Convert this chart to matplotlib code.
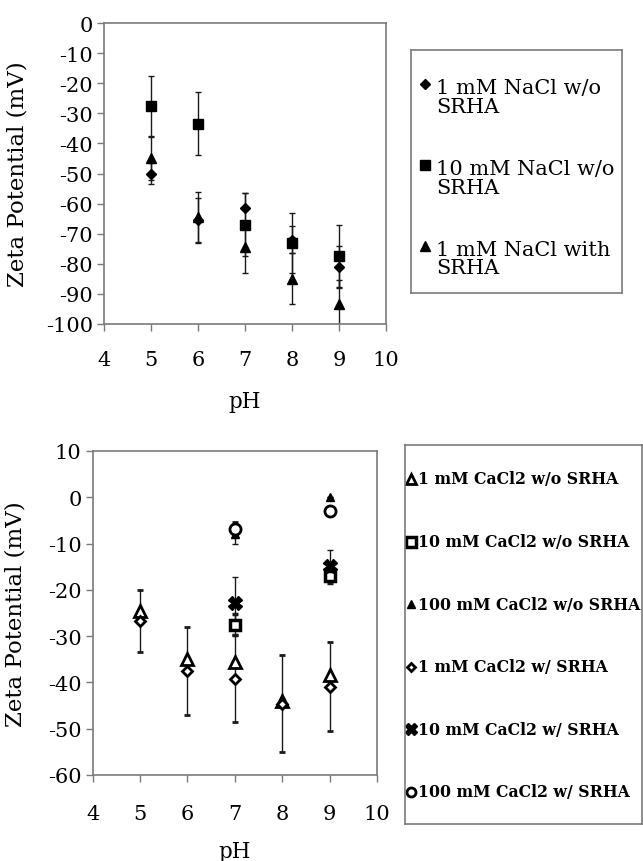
import numpy as np
import matplotlib
matplotlib.use("Agg")
import matplotlib.pyplot as plt

plt.rcParams['font.family'] = ['DejaVu Serif']

# ---- data: top panel (NaCl) ----
ph = [5, 6, 7, 8, 9]
nacl_1 = [-50, -65.5, -61.5, -72, -81]
nacl_1_err = [3.5, 7.3, 5, 4.5, 7]
nacl_10 = [-27.5, -33.5, -67, -73, -77.3]
nacl_10_err = [10, 10.5, 10.5, 10, 10.3]
nacl_1_srha = [-45, -64.5, -74.5, -85, -93.5]
nacl_1_srha_err = [7, 8.5, 8.5, 8.5, 8]

top_labels = [("1 mM NaCl w/o", "SRHA"), ("10 mM NaCl w/o", "SRHA"), ("1 mM NaCl with", "SRHA")]

# ---- data: bottom panel (CaCl2) ----
nan = np.nan
ca_1 = [-24.5, -35, -35.5, -44, -38.5]
ca_1_err = [0, 0, 0, 0, 0]
ca_10 = [nan, nan, -27.5, nan, -17]
ca_10_err = [0, 0, 2.3, 0, 1.5]
ca_100 = [nan, nan, -8, nan, 0]
ca_100_err = [0, 0, 2, 0, 0]
ca_1_srha = [-26.8, -37.6, -39.2, -44.6, -40.9]
ca_1_srha_err = [6.7, 9.5, 9.4, 10.5, 9.7]
ca_10_srha = [nan, nan, -22.9, nan, -14.8]
ca_10_srha_err = [0, 0, 5.6, 0, 3.4]
ca_100_srha = [nan, nan, -6.8, nan, -3]
ca_100_srha_err = [0, 0, 1.5, 0, 0]

bottom_labels = ["1 mM CaCl2 w/o SRHA", "10 mM CaCl2 w/o SRHA", "100 mM CaCl2 w/o SRHA",
                 "1 mM CaCl2 w/ SRHA", "10 mM CaCl2 w/ SRHA", "100 mM CaCl2 w/ SRHA"]

W, H = 643, 862
fig = plt.figure(figsize=(W / 100, H / 100), dpi=100)
GRAY = '#7a7a7a'


def px_axes(l, t, r, b):
    return fig.add_axes([l / W, 1 - b / H, (r - l) / W, (b - t) / H])


def style_axes(ax):
    for s in ax.spines.values():
        s.set_color(GRAY)
        s.set_linewidth(1.2)
    ax.tick_params(direction='out', length=5, width=1, color=GRAY, labelsize=15, pad=3)


def legend_box(l, t, r, b):
    lg = px_axes(l, t, r, b)
    lg.set_xlim(l, r)
    lg.set_ylim(b, t)  # pixel coordinates, y down
    lg.set_xticks([])
    lg.set_yticks([])
    for s in lg.spines.values():
        s.set_color(GRAY)
        s.set_linewidth(1.2)
    return lg


ebkw = dict(ls='none', ecolor='#1a1a1a', elinewidth=1, capsize=2.5, capthick=1)

# ---- top plot ----
ax1 = px_axes(104, 24, 386, 325)
ax1.errorbar(ph, nacl_1_srha, yerr=nacl_1_srha_err, fmt='^', color='black', ms=7, **ebkw)
ax1.errorbar(ph, nacl_1, yerr=nacl_1_err, fmt='D', color='black', ms=5, **ebkw)
ax1.errorbar(ph, nacl_10, yerr=nacl_10_err, fmt='s', color='black', ms=7.2, **ebkw)
ax1.set_xlim(4, 10)
ax1.set_ylim(-100, 0)
ax1.set_xticks(range(4, 11))
ax1.set_yticks(range(-100, 1, 10))
ax1.set_yticklabels([str(v) for v in range(-100, 1, 10)])
style_axes(ax1)
ax1.tick_params(axis='x', pad=14)
ax1.set_xlabel('pH', fontsize=15.5, va='center')
ax1.xaxis.set_label_coords(0.5, -(402 - 325) / 301)
ax1.set_ylabel('Zeta Potential (mV)', fontsize=16.5, va='center')
ax1.yaxis.set_label_coords((18 - 104) / 282, 0.5)

lg1 = legend_box(411, 51, 622, 294)
top_marks = [('D', 5), ('s', 6.5), ('^', 6.5)]
for i, ((l1, l2), (m, ms)) in enumerate(zip(top_labels, top_marks)):
    y0 = 88 + i * 81
    lg1.plot(425, y0 - 3, marker=m, color='black', ms=ms)
    lg1.text(436, y0, l1, fontsize=15, va='center', ha='left')
    lg1.text(436, y0 + 19, l2, fontsize=15, va='center', ha='left')

# ---- bottom plot ----
ax2 = px_axes(92.7, 452, 377, 776)
ax2.errorbar(ph, ca_1, yerr=ca_1_err, fmt='^', mfc='white', mec='black', mew=2, ms=8.5, **ebkw)
ax2.errorbar(ph, ca_1_srha, yerr=ca_1_srha_err, fmt='D', mfc='white', mec='black', mew=2, ms=5.5, **ebkw)
ax2.errorbar(ph, ca_10, yerr=ca_10_err, fmt='s', mfc='white', mec='black', mew=2.5, ms=7.5, **ebkw)
ax2.errorbar(ph, ca_100, yerr=ca_100_err, fmt='^', color='black', ms=6, **ebkw)
ax2.errorbar(ph, ca_10_srha, yerr=ca_10_srha_err, fmt='X', color='black', ms=10, **ebkw)
ax2.errorbar(ph, ca_100_srha, yerr=ca_100_srha_err, fmt='o', mfc='white', mec='black', mew=2, ms=8, **ebkw)
ax2.set_xlim(4, 10)
ax2.set_ylim(-60, 10)
ax2.set_xticks(range(4, 11))
ax2.set_yticks(range(-60, 11, 10))
ax2.set_yticklabels([str(v) for v in range(-60, 11, 10)])
style_axes(ax2)
ax2.tick_params(axis='x', pad=16)
ax2.set_xlabel('pH', fontsize=15.5, va='center')
ax2.xaxis.set_label_coords(0.5, -(852 - 776) / 324)
ax2.set_ylabel('Zeta Potential (mV)', fontsize=16.5, va='center')
ax2.yaxis.set_label_coords((16 - 92.7) / 284.3, 0.5)

lg2 = legend_box(405, 446, 642, 825)
bot_marks = [dict(marker='^', mfc='white', mec='black', mew=2, ms=7),
             dict(marker='s', mfc='white', mec='black', mew=2.5, ms=6.5),
             dict(marker='^', color='black', ms=5.5),
             dict(marker='D', mfc='white', mec='black', mew=2, ms=4.5),
             dict(marker='X', color='black', ms=8.5),
             dict(marker='o', mfc='white', mec='black', mew=2, ms=6.5)]
for i, (lab, mk) in enumerate(zip(bottom_labels, bot_marks)):
    y0 = 480 + i * 62.6
    lg2.plot(411, y0, **mk)
    lg2.text(418, y0, lab, fontsize=11.3, fontweight='bold', va='center', ha='left')

fig.savefig('out.png', dpi=100)
